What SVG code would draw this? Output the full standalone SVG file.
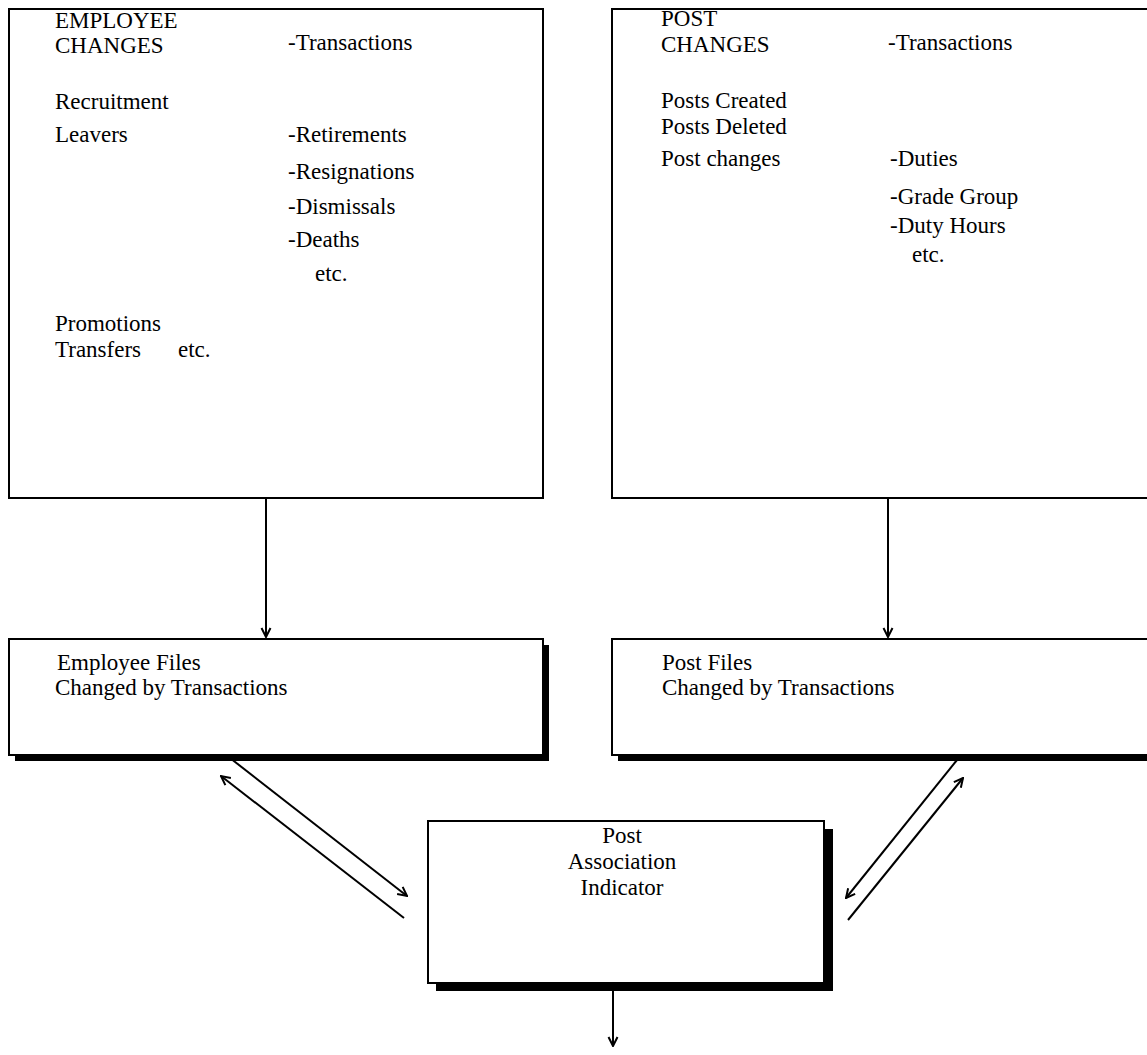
<svg xmlns="http://www.w3.org/2000/svg" width="1147" height="1055" viewBox="0 0 1147 1055">
  <style>
    .box { fill: #ffffff; stroke: #000000; stroke-width: 2; }
    .shadow { fill: #000000; }
    .t { font-family: "Liberation Serif", "Times New Roman", serif; font-size: 23px; fill: #000000; }
    .c { text-anchor: middle; }
    .line { stroke: #000000; stroke-width: 2; fill: none; }
  </style>
  <defs>
    <marker id="open" viewBox="0 0 12 12" refX="11" refY="6" markerWidth="12" markerHeight="12" markerUnits="userSpaceOnUse" orient="auto-start-reverse">
      <path d="M2,1.5 L11,6 L2,10.5" fill="none" stroke="#000000" stroke-width="2"/>
    </marker>
  </defs>
  <rect width="1147" height="1055" fill="#ffffff"/>

  <!-- Employee transactions -->
  <g id="employee-changes">
    <rect class="box" x="9" y="9" width="534" height="489"/>
    <text class="t" x="55" y="28">EMPLOYEE</text>
    <text class="t" x="55" y="53">CHANGES</text>
    <text class="t" x="288" y="50">-Transactions</text>
    <text class="t" x="55" y="109">Recruitment</text>
    <text class="t" x="55" y="142">Leavers</text>
    <text class="t" x="288" y="142">-Retirements</text>
    <text class="t" x="288" y="179">-Resignations</text>
    <text class="t" x="288" y="214">-Dismissals</text>
    <text class="t" x="288" y="247">-Deaths</text>
    <text class="t" x="315" y="281">etc.</text>
    <text class="t" x="55" y="331">Promotions</text>
    <text class="t" x="55" y="357">Transfers</text>
    <text class="t" x="178" y="357">etc.</text>
  </g>

  <!-- Post transactions -->
  <g id="post-changes">
    <rect class="box" x="612" y="9" width="540" height="489"/>
    <text class="t" x="661" y="26">POST</text>
    <text class="t" x="661" y="52">CHANGES</text>
    <text class="t" x="888" y="50">-Transactions</text>
    <text class="t" x="661" y="108">Posts Created</text>
    <text class="t" x="661" y="134">Posts Deleted</text>
    <text class="t" x="661" y="166">Post changes</text>
    <text class="t" x="890" y="166">-Duties</text>
    <text class="t" x="890" y="204">-Grade Group</text>
    <text class="t" x="890" y="233">-Duty Hours</text>
    <text class="t" x="912" y="262">etc.</text>
  </g>

  <!-- Employee files -->
  <g id="employee-files">
    <rect class="shadow" x="15" y="645" width="534" height="116"/>
    <rect class="box" x="9" y="639" width="534" height="116"/>
    <text class="t" x="57" y="670">Employee Files</text>
    <text class="t" x="55" y="695">Changed by Transactions</text>
  </g>

  <!-- Post files -->
  <g id="post-files">
    <rect class="shadow" x="618" y="645" width="540" height="116"/>
    <rect class="box" x="612" y="639" width="540" height="116"/>
    <text class="t" x="662" y="670">Post Files</text>
    <text class="t" x="662" y="695">Changed by Transactions</text>
  </g>

  <!-- Association indicator -->
  <g id="post-association">
    <rect class="shadow" x="436" y="829" width="397" height="162"/>
    <rect class="box" x="428" y="821" width="396" height="162"/>
    <text class="t c" x="622" y="843">Post</text>
    <text class="t c" x="622" y="869">Association</text>
    <text class="t c" x="622" y="895">Indicator</text>
  </g>

  <g id="connectors">
    <line class="line" x1="266" y1="498" x2="266" y2="637" marker-end="url(#open)"/>
    <line class="line" x1="888" y1="498" x2="888" y2="637" marker-end="url(#open)"/>
    <line class="line" x1="230" y1="758" x2="407" y2="896" marker-end="url(#open)"/>
    <line class="line" x1="404" y1="918" x2="221" y2="776" marker-end="url(#open)"/>
    <line class="line" x1="957" y1="760" x2="846" y2="898" marker-end="url(#open)"/>
    <line class="line" x1="848" y1="920" x2="963" y2="778" marker-end="url(#open)"/>
    <line class="line" x1="613" y1="991" x2="613" y2="1046" marker-end="url(#open)"/>
  </g>
</svg>
